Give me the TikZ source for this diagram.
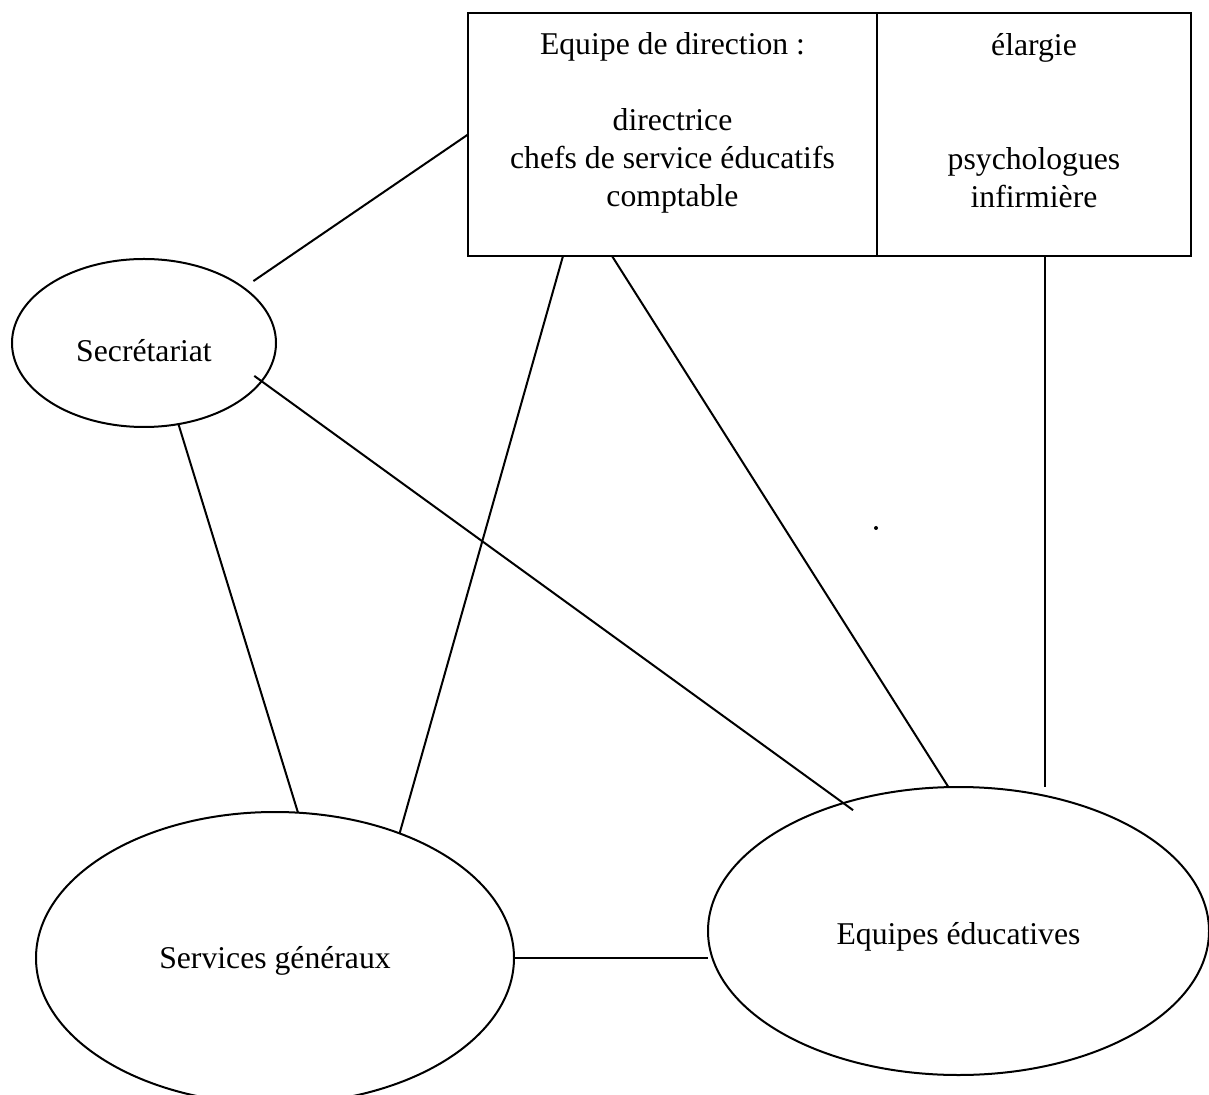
\documentclass[tikz,border=0pt]{standalone}
\usepackage{fontspec}
\setmainfont{Liberation Serif}
\usepackage{tikz}
\usetikzlibrary{calc,positioning,shapes.geometric}

\begin{document}
\begin{tikzpicture}[x=0.5pt,y=-0.5pt,line width=1pt,
  every node/.style={font=\fontsize{15.85}{19}\selectfont},
  box/.style={draw,rectangle,inner sep=0pt,outer sep=0pt,anchor=north west,minimum height=121.5pt},
  bulle/.style={draw,ellipse,inner sep=0pt,outer sep=0pt,text depth=0pt},
  texte/.style={anchor=north,align=center,inner sep=0pt}]
  \useasboundingbox (0,0) rectangle (1209,1095);
  % 方框：左右两格
  \node [box,minimum width=204.5pt] (dir) at (468,13) {};
  \node [box,minimum width=157pt] (ext) at (dir.north east) {};
  \node [texte] (dirtxt) at ([yshift=-9.5pt]dir.north)
    {Equipe de direction :\\[19pt]directrice\\chefs de service éducatifs\\comptable};
  \node [texte] (exttxt) at ([yshift=-9.5pt]ext.north)
    {élargie\\[38pt]psychologues\\infirmière};
  % 三个椭圆
  \node [bulle,minimum width=132pt,minimum height=84pt,text height=19pt] (sec) at (144,343) {Secrétariat};
  \node [bulle,minimum width=239pt,minimum height=146pt,text height=10pt] (gen) at (275,958) {Services généraux};
  \node [bulle,minimum width=250.5pt,minimum height=144pt,text height=13pt] (edu) at (958.5,931) {Equipes éducatives};
  % 连线
  \draw [shorten <=6pt] (sec.29) -- (dir.west);
  \draw [shorten <=-4.5pt,shorten >=-6pt] (sec.-18) -- (edu.132);
  \draw (sec.-67) -- (gen.81);
  \draw ([xshift=47.5pt]dir.south west) -- (gen.45.5);
  \draw ([xshift=72pt]dir.south west) -- (edu.94);
  \draw ([xshift=84pt]ext.south west) coordinate (v) -- (v |- edu.north);
  \draw (gen.east) -- (gen.east -| edu.west);
  % 小点
  \fill (876,528) circle (1pt);
\end{tikzpicture}
\end{document}
